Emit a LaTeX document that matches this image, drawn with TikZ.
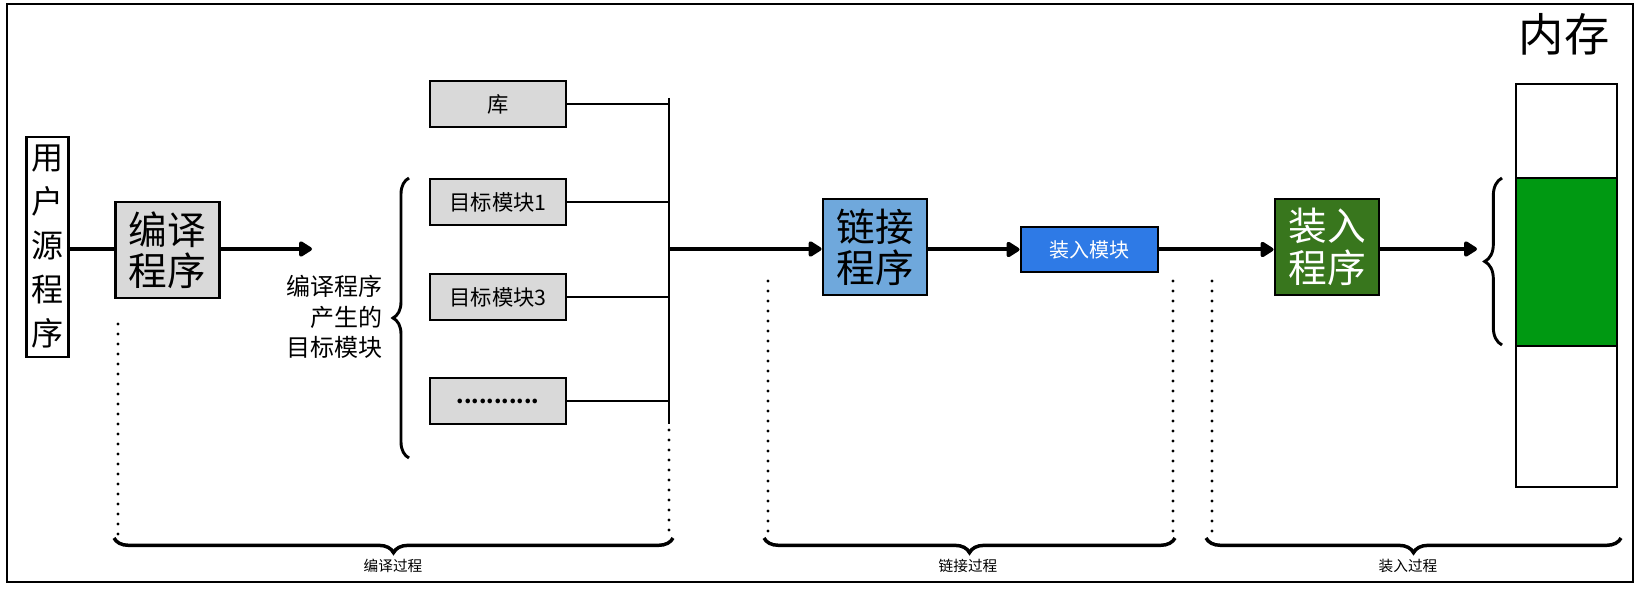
\documentclass[tikz,border=0pt]{standalone}
\usepackage{fontspec}
\usepackage{tikz}
\usetikzlibrary{arrows.meta,decorations.pathreplacing}
\newfontfamily\cjk{Noto Sans CJK SC}

\tikzset{
  box/.style={draw, line width=2.2pt, inner sep=0pt, align=center, font=\cjk},
  modbox/.style={box, fill={rgb, 255:red, 217; green, 217; blue, 217}, minimum width=102pt, minimum height=34.5pt, font=\cjk\fontsize{16}{18}\selectfont},
  progbox/.style={box, minimum width=78pt, minimum height=72pt, font=\cjk\fontsize{29}{31}\selectfont},
  flow/.style={line width=3pt, -{Triangle[length=11pt,width=13pt,round]}},
  bracedown/.style={line width=2.6pt, decorate, decoration={brace, amplitude=11pt, mirror}},
  braceleft/.style={line width=2.2pt, decorate, decoration={brace, amplitude=12pt}},
  dotline/.style={line width=2.4pt, line cap=round, dash pattern=on 0pt off 7.5pt},
  phase/.style={font=\cjk\fontsize{11}{13}\selectfont}
}

\begin{document}
\begin{tikzpicture}[x=0.75pt,y=0.75pt,yscale=-1,xscale=1]
        \useasboundingbox (0,0) rectangle (1641,595);

        %Shape: Rectangle [frame]
        \draw [line width=2pt] (7,4) rectangle (1633,582);

        % Source and compiler
        \node [box, minimum width=32pt, minimum height=165pt, font=\cjk\fontsize{24}{33}\selectfont] (src) at (47.5,247) {用\\户\\源\\程\\序};
        \node [progbox, fill={rgb, 255:red, 217; green, 217; blue, 217}] (compiler) at (167.5,250) {编译\\程序};
        \coordinate (objIn) at (312,249);
        \draw [line width=3.2pt] (src.east |- objIn) -- (compiler.west |- objIn);
        \draw [flow] (compiler.east |- objIn) -- (objIn);

        % Text Node
        \node [anchor=east, align=right, inner sep=0.75pt, font=\cjk\fontsize{18}{23}\selectfont] (objText) at (384,317) {编译程序\\产生的\\目标模块};
        \draw [braceleft] (409,458) -- (409,178);

        % Object modules
        \node [modbox] (lib) at (498,104) {库};
        \node [modbox] (objA) at (498,202) {目标模块1};
        \node [modbox] (objB) at (498,297) {目标模块3};
        \node [modbox, font=\cjk\fontsize{16}{18}\selectfont\bfseries] (objMore) at (498,401) {...........};

        % Bus
        \coordinate (busTop) at (669,98);
        \coordinate (busBot) at (669,424);
        \coordinate (busOut) at (669,249);
        \draw [line width=1.5pt] (busTop) -- (busBot);
        \draw [line width=1.2pt] (lib.east) -- (lib.east -| busTop);
        \draw [line width=1.2pt] (objA.east) -- (objA.east -| busTop);
        \draw [line width=1.2pt] (objB.east) -- (objB.east -| busTop);
        \draw [line width=1.2pt] (objMore.east) -- (objMore.east -| busTop);

        % Linker and loader
        \node [progbox, fill={rgb, 255:red, 111; green, 168; blue, 220}] (linker) at (875,247) {链接\\程序};
        \node [box, fill={rgb, 255:red, 46; green, 122; blue, 230}, text=white, minimum width=102.75pt, minimum height=33.75pt, font=\cjk\fontsize{15}{17}\selectfont] (loadmod) at (1089.5,249.5) {装入模块};
        \node [progbox, fill={rgb, 255:red, 56; green, 118; blue, 29}, text=white] (loader) at (1327,247) {装入\\程序};
        \draw [flow] (busOut) -- (busOut -| linker.west);
        \draw [flow] (linker.east |- loadmod) -- (loadmod.west);
        \draw [flow] (loadmod.east) -- (loadmod.east -| loader.west);

        % Memory
        \node [draw, line width=2.2pt, minimum width=75.75pt, minimum height=302.25pt, inner sep=0pt] (mem) at (1566.5,285.5) {};
        \node [draw, line width=2.2pt, fill={rgb, 255:red, 0; green, 153; blue, 18}, minimum width=75.75pt, minimum height=126pt, inner sep=0pt] (memUsed) at (1566.5,262) {};
        \node [font=\cjk\fontsize{34}{36}\selectfont, inner sep=0pt] (memText) at (1564,34) {内存};
        \coordinate (memIn) at (1477,249);
        \draw [flow] (loader.east |- memIn) -- (memIn);
        \draw [braceleft, decoration={brace, amplitude=13pt}] (1502,345) -- (1502,178);

        % Dotted lines
        \draw [dotline] (118,324) -- (118,536);
        \draw [dotline] (669,430) -- (669,536);
        \draw [dotline] (768,281) -- (768,536);
        \draw [dotline] (1173,281) -- (1173,536);
        \draw [dotline] (1212,281) -- (1212,536);

        % Phases
        \draw [bracedown] (114,538) -- (673,538);
        \draw [bracedown] (764,538) -- (1175,538);
        \draw [bracedown] (1206,538) -- (1621,538);
        \node [phase] (phaseA) at (393,566) {编译过程};
        \node [phase] (phaseB) at (968,566) {链接过程};
        \node [phase] (phaseC) at (1408,566) {装入过程};

    \end{tikzpicture}
\end{document}
